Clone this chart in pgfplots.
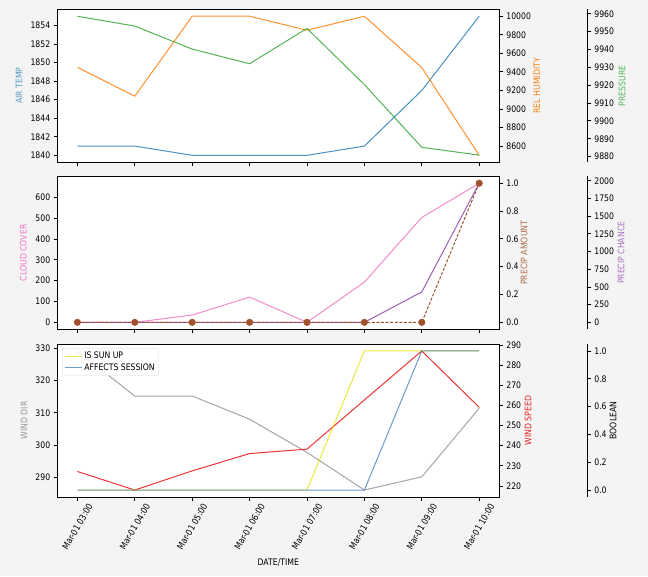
\documentclass[border=0pt]{standalone}
\usepackage{fontspec}
\setmainfont{DejaVu Sans}[FakeStretch=0.86]
\usepackage{pgfplots}
\pgfplotsset{compat=1.18}
\definecolor{figbg}{RGB}{244,244,244}
\definecolor{cblue}{RGB}{31,119,180}
\definecolor{corange}{RGB}{255,127,14}
\definecolor{cgreen}{RGB}{44,160,44}
\definecolor{cpink}{RGB}{240,120,195}
\definecolor{cpurple}{RGB}{148,80,175}
\definecolor{cbrown}{RGB}{160,82,45}
\definecolor{cgrey}{RGB}{150,150,150}
\definecolor{cred}{RGB}{235,30,30}
\definecolor{cyellow}{RGB}{230,225,0}
\definecolor{csteel}{RGB}{60,125,185}
\pgfplotsset{
  every axis/.append style={
    scale only axis, width=442pt, height=153pt,
    xmin=-0.35, xmax=7.35,
    tick align=outside, major tick length=3.5pt,
    font=\fontsize{9}{10}\selectfont,
    /pgf/number format/assume math mode=true,
    /pgf/number format/1000 sep={},
    scaled y ticks=false, scaled x ticks=false,
    axis line style={line width=0.8pt},
    every tick/.style={black, line width=0.8pt},
    clip=false,
  },
  twin/.style={axis x line=none, axis y line*=right, ytick pos=right},
  third/.style={width=530pt, xmax=8.883, axis x line=none, axis y line*=right, ytick pos=right},
  onedec/.style={yticklabel style={/pgf/number format/.cd, fixed, fixed zerofill, precision=1}},
}
\newcommand{\rl}[1]{\rotatebox{60}{#1}}
\begin{document}
\begin{tikzpicture}
\path[use as bounding box] (0,0) rectangle (648pt,576pt);
\fill[figbg] (0,0) rectangle (648pt,576pt);

% ================= Panel 1 =================
\begin{axis}[at={(57.3pt,413.7pt)}, anchor=south west,
  axis background/.style={fill=white},
  xtick={0,1,2,3,4,5,6,7}, xticklabels={}, xtick pos=bottom, ytick pos=left,
  ymin=1839.25, ymax=1855.75, ytick={1840,1842,1844,1846,1848,1850,1852,1854},
  ylabel={AIR TEMP}, ylabel style={color=cblue!75, at={(axis description cs:-0.0867,0.5)}, anchor=center}]
\addplot[cblue, opacity=0.8, line width=1pt] coordinates {(0,1841) (1,1841) (2,1840) (3,1840) (4,1840) (5,1841) (6,1847) (7,1855)};
\end{axis}
\begin{axis}[at={(57.3pt,413.7pt)}, anchor=south west, twin,
  ymin=8425, ymax=10075, ytick={8600,8800,9000,9200,9400,9600,9800,10000},
  ylabel={REL HUMIDITY}, ylabel style={color=corange, at={(axis description cs:1.085,0.5)}, anchor=center}]
\addplot[corange, opacity=0.85, line width=1pt] coordinates {(0,9450) (1,9138) (2,10000) (3,10000) (4,9849) (5,10000) (6,9446) (7,8500)};
\end{axis}
\begin{axis}[at={(57.3pt,413.7pt)}, anchor=south west, third,
  ymin=9876.8, ymax=9962.5, ytick={9880,9890,9900,9910,9920,9930,9940,9950,9960},
  ylabel={PRESSURE}, ylabel style={color=cgreen!80, at={(axis description cs:1.0655,0.5)}, anchor=center}]
\addplot[cgreen, opacity=0.8, line width=1pt] coordinates {(0,9958.6) (1,9953.1) (2,9940.2) (3,9932.0) (4,9951.8) (5,9920.3) (6,9885.2) (7,9880.8)};
\end{axis}

% ================= Panel 2 =================
\begin{axis}[at={(57.3pt,246.7pt)}, anchor=south west,
  axis background/.style={fill=white},
  xtick={0,1,2,3,4,5,6,7}, xticklabels={}, xtick pos=bottom, ytick pos=left,
  ymin=-33.35, ymax=700.35, ytick={0,100,200,300,400,500,600},
  ylabel={CLOUD COVER}, ylabel style={color=cpink, at={(axis description cs:-0.077,0.5)}, anchor=center}]
\addplot[cpink, opacity=0.85, line width=1pt] coordinates {(0,0) (1,0) (2,35) (3,121) (4,0) (5,193) (6,503) (7,667)};
\end{axis}
\begin{axis}[at={(57.3pt,246.7pt)}, anchor=south west, third,
  ymin=-98.25, ymax=2063.25, ytick={0,250,500,750,1000,1250,1500,1750,2000},
  ylabel={PRECIP CHANCE}, ylabel style={color=cpurple!80, at={(axis description cs:1.0636,0.5)}, anchor=center}]
\addplot[cpurple, opacity=0.9, line width=1pt] coordinates {(0,0) (1,0) (2,0) (3,0) (4,0) (5,0) (6,430) (7,1965)};
\end{axis}
\begin{axis}[at={(57.3pt,246.7pt)}, anchor=south west, twin, onedec,
  ymin=-0.05, ymax=1.05, ytick={0,0.2,0.4,0.6,0.8,1.0},
  ylabel={PRECIP AMOUNT}, ylabel style={color=cbrown!85, at={(axis description cs:1.056,0.5)}, anchor=center}]
\addplot[cbrown, line width=1pt, dash pattern=on 3pt off 1.6pt, mark=*, mark size=3pt, mark options={solid, fill=cbrown, draw=cbrown}] coordinates {(0,0) (1,0) (2,0) (3,0) (4,0) (5,0) (6,0) (7,1)};
\end{axis}

% ================= Panel 3 =================
\begin{axis}[at={(57.3pt,79pt)}, anchor=south west,
  axis background/.style={fill=white},
  xtick={0,1,2,3,4,5,6,7},
  xticklabels={\rl{Mar-01 03:00},\rl{Mar-01 04:00},\rl{Mar-01 05:00},\rl{Mar-01 06:00},\rl{Mar-01 07:00},\rl{Mar-01 08:00},\rl{Mar-01 09:00},\rl{Mar-01 10:00}},
  xticklabel style={anchor=north, inner sep=1pt, yshift=-1pt},
  xtick pos=bottom, ytick pos=left,
  xlabel={DATE/TIME}, xlabel style={at={(axis description cs:0.5,-0.429)}, anchor=center},
  ymin=283.84, ymax=331.36, ytick={290,300,310,320,330},
  ylabel={WIND DIR}, ylabel style={color=cgrey, at={(axis description cs:-0.0753,0.5)}, anchor=center}]
\addplot[cgrey, opacity=0.85, line width=1pt] coordinates {(0,329.2) (1,315.2) (2,315.2) (3,308.0) (4,297.7) (5,286) (6,290.1) (7,311.4)};
\end{axis}
\begin{axis}[at={(57.3pt,79pt)}, anchor=south west, twin,
  ymin=214.55, ymax=290.45, ytick={220,230,240,250,260,270,280,290},
  ylabel={WIND SPEED}, ylabel style={color=cred, at={(axis description cs:1.065,0.5)}, anchor=center}]
\addplot[cred, opacity=0.9, line width=1pt] coordinates {(0,227.2) (1,218) (2,227.5) (3,236.1) (4,238.3) (5,262.7) (6,287) (7,259)};
\end{axis}
\begin{axis}[at={(57.3pt,79pt)}, anchor=south west, third, onedec,
  ymin=-0.05, ymax=1.05, ytick={0,0.2,0.4,0.6,0.8,1.0},
  ylabel={BOOLEAN}, ylabel style={color=black, at={(axis description cs:1.0485,0.5)}, anchor=center},
  legend style={at={(axis description cs:0.009,0.974)}, anchor=north west,
    draw=black!15, fill=white, fill opacity=0.8, text opacity=1, rounded corners=2pt,
    font=\fontsize{9}{10}\selectfont, row sep=-1pt, inner sep=2pt},
  legend cell align=left]
\addplot[cyellow, opacity=0.75, line width=1pt] coordinates {(0,0) (1,0) (2,0) (3,0) (4,0) (5,1) (6,1) (7,1)};
\addlegendentry{IS SUN UP}
\addplot[csteel, opacity=0.75, line width=1pt] coordinates {(0,0) (1,0) (2,0) (3,0) (4,0) (5,0) (6,1) (7,1)};
\addlegendentry{AFFECTS SESSION}
\end{axis}
\end{tikzpicture}
\end{document}
